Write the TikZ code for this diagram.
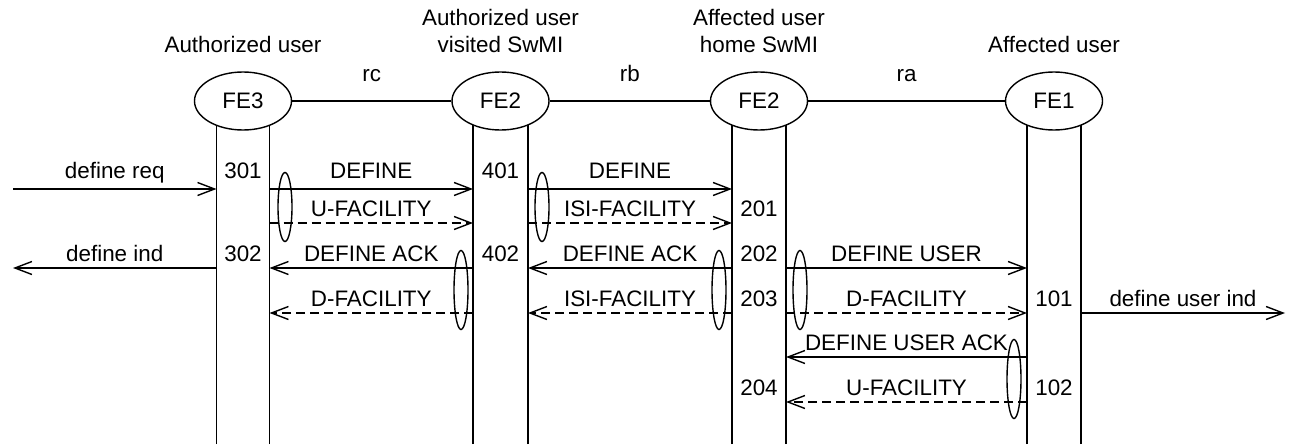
\documentclass[tikz,border=0pt]{standalone}
\usepackage{fontspec}
\setmainfont{Liberation Sans}
\usetikzlibrary{shapes.geometric,arrows.meta,positioning}

\begin{document}
\begin{tikzpicture}[x=1pt,y=-1pt,line width=1.4pt,
    font=\fontsize{22.4}{27}\selectfont,
    entity/.style={draw,ellipse,fill=white,minimum width=97pt,minimum height=58pt,inner sep=0pt},
    title/.style={align=center,inner sep=0pt},
    msg/.style={-{Straight Barb[length=17pt,width=13pt]}},
    fac/.style={msg,dash pattern=on 9pt off 5pt},
    lbl/.style={anchor=base,inner sep=0pt,yshift=6.5pt},
    num/.style={anchor=base,inner sep=0pt,yshift=6.5pt},
    grp/.style={draw,ellipse,minimum width=14pt,inner sep=0pt}]

  \useasboundingbox (0,0) rectangle (1289,444);

  % lifelines
  \coordinate (fe3l) at (216.5,444);
  \coordinate (fe3r) at (269.5,444);
  \coordinate (fe2vl) at (473,444);
  \coordinate (fe2vr) at (528,444);
  \coordinate (fe2hl) at (732,444);
  \coordinate (fe2hr) at (786,444);
  \coordinate (fe1l) at (1027,444);
  \coordinate (fe1r) at (1081,444);
  \foreach \c in {fe3l,fe3r,fe2vl,fe2vr,fe2hl,fe2hr,fe1l,fe1r}
    \draw (\c) -- ++(0,-342);

  \node[entity] (fe3) at (243,101) {FE3};
  \node[entity] (fe2v) at (500.5,101) {FE2};
  \node[entity] (fe2h) at (759,101) {FE2};
  \node[entity] (fe1) at (1054,101) {FE1};

  \node[title,above=18pt of fe3] (t3) {Authorized user};
  \node[title,above=18pt of fe2v] (t2v) {Authorized user\\visited SwMI};
  \node[title,above=18pt of fe2h] (t2h) {Affected user\\home SwMI};
  \node[title,above=18pt of fe1] (t1) {Affected user};

  \draw (fe3) -- (fe2v) node[midway,above=19pt,inner sep=0pt] (rc) {rc};
  \draw (fe2v) -- (fe2h) node[midway,above=19pt,inner sep=0pt] (rb) {rb};
  \draw (fe2h) -- (fe1) node[midway,above=19pt,inner sep=0pt] (ra) {ra};

  % rows
  \coordinate (r1) at (0,189);
  \coordinate (r2) at (0,223);
  \coordinate (r3) at (0,268);
  \coordinate (r4) at (0,313);
  \coordinate (r5) at (0,357);
  \coordinate (r6) at (0,402);
  \coordinate (inreq) at (13,189);
  \coordinate (outind) at (13,268);
  \coordinate (outuser) at (1285,313);

  \draw[msg] (inreq) -- (fe3l |- r1) node[lbl,midway,yshift=4.5pt] {define req};
  \draw[msg] (fe3r |- r1) -- (fe2vl |- r1) node[lbl,midway,yshift=4.5pt] {DEFINE};
  \draw[msg] (fe2vr |- r1) -- (fe2hl |- r1) node[lbl,midway,yshift=4.5pt] {DEFINE};

  \draw[fac] (fe3r |- r2) -- (fe2vl |- r2) node[lbl,midway] {U-FACILITY};
  \draw[fac] (fe2vr |- r2) -- (fe2hl |- r2) node[lbl,midway] {ISI-FACILITY};

  \draw[msg] (fe3l |- r3) -- (outind) node[lbl,midway] {define ind};
  \draw[msg] (fe2vl |- r3) -- (fe3r |- r3) node[lbl,midway] {DEFINE ACK};
  \draw[msg] (fe2hl |- r3) -- (fe2vr |- r3) node[lbl,midway] {DEFINE ACK};
  \draw[msg] (fe2hr |- r3) -- (fe1l |- r3) node[lbl,midway] {DEFINE USER};

  \draw[fac] (fe2vl |- r4) -- (fe3r |- r4) node[lbl,midway] {D-FACILITY};
  \draw[fac] (fe2hl |- r4) -- (fe2vr |- r4) node[lbl,midway] {ISI-FACILITY};
  \draw[fac] (fe2hr |- r4) -- (fe1l |- r4) node[lbl,midway] {D-FACILITY};
  \draw[msg] (fe1r |- r4) -- (outuser) node[lbl,midway] {define user ind};

  \draw[msg] (fe1l |- r5) -- (fe2hr |- r5) node[lbl,midway] {DEFINE USER ACK};
  \draw[fac] (fe1l |- r6) -- (fe2hr |- r6) node[lbl,midway] {U-FACILITY};

  % state numbers
  \node[num,yshift=4.5pt] (n301) at (fe3 |- r1) {301};
  \node[num] (n302) at (fe3 |- r3) {302};
  \node[num,yshift=4.5pt] (n401) at (fe2v |- r1) {401};
  \node[num] (n402) at (fe2v |- r3) {402};
  \node[num] (n201) at (fe2h |- r2) {201};
  \node[num] (n202) at (fe2h |- r3) {202};
  \node[num] (n203) at (fe2h |- r4) {203};
  \node[num] (n204) at (fe2h |- r6) {204};
  \node[num] (n101) at (fe1 |- r4) {101};
  \node[num] (n102) at (fe1 |- r6) {102};

  % grouped messages
  \node[grp,minimum height=69pt] (g1) at (285,207) {};
  \node[grp,minimum height=69pt] (g2) at (542,207) {};
  \node[grp,minimum height=79pt] (g3) at (461,290) {};
  \node[grp,minimum height=79pt] (g4) at (719,290) {};
  \node[grp,minimum height=79pt] (g5) at (800,290) {};
  \node[grp,minimum height=79pt] (g6) at (1014,379) {};

\end{tikzpicture}
\end{document}
